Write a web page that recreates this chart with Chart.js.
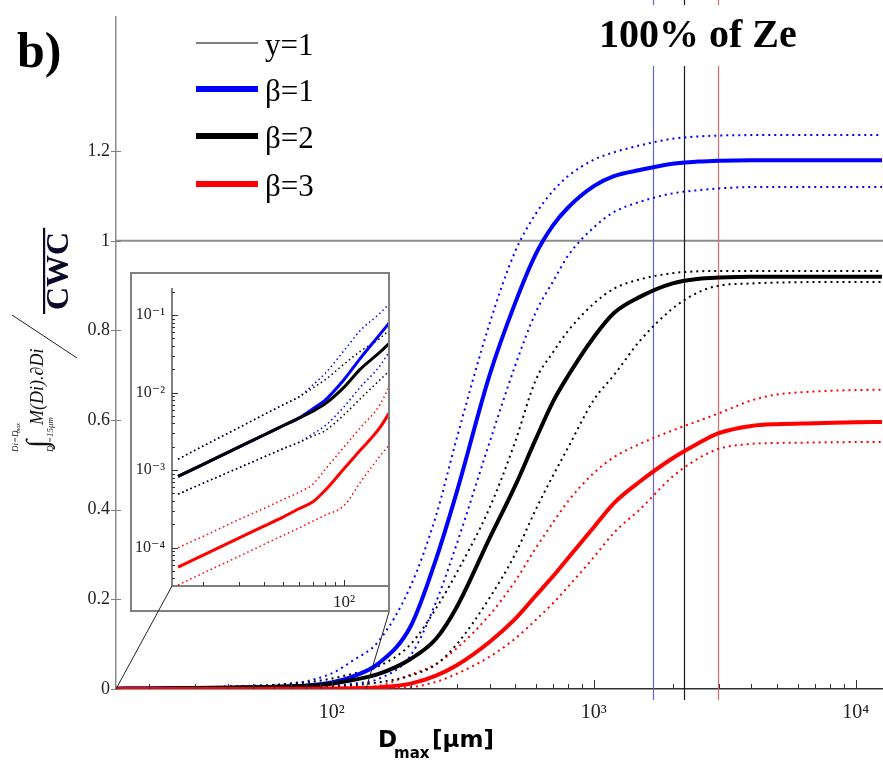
<!DOCTYPE html>
<html>
<head>
<meta charset="utf-8">
<script src="https://cdn.jsdelivr.net/npm/chart.js@4.4.0/dist/chart.umd.min.js"></script>
<style>
body { margin: 0; background: #fff; }
#wrap { position: relative; width: 883px; height: 761px; }
#mainChart { position: absolute; left: 0; top: 0; }
#insetChart { position: absolute; left: 130px; top: 272px; background: #fff; }
</style>
</head>
<body>
<div id="wrap">
  <canvas id="mainChart" width="883" height="761"></canvas>
  <canvas id="insetChart" width="260" height="340"></canvas>
</div>
<script>
// D_max [µm]
const dmax = [15, 20, 30, 40, 50, 60, 70, 80, 100, 120, 150, 200, 250, 300, 400, 500, 600, 700, 800, 1000, 1200, 1500, 2000, 2500, 3000, 4000, 5000, 7000, 10000, 12600];

// beta = 1 (blue)
const beta1Mid = [8.3e-4, 1.19e-3, 1.98e-3, 2.84e-3, 3.77e-3, 4.73e-3, 6.2e-3, 7.9e-3, 0.0148, 0.0275, 0.056, 0.14, 0.29, 0.44, 0.70, 0.86, 0.97, 1.035, 1.075, 1.122, 1.145, 1.158, 1.172, 1.177, 1.179, 1.18, 1.18, 1.18, 1.18, 1.18];
const beta1Hi = [1.39e-3, 2.05e-3, 3.53e-3, 5.2e-3, 7.0e-3, 8.9e-3, 0.0126, 0.0174, 0.035, 0.063, 0.105, 0.23, 0.387, 0.56, 0.815, 0.975, 1.06, 1.112, 1.145, 1.181, 1.198, 1.213, 1.228, 1.233, 1.235, 1.236, 1.236, 1.236, 1.236, 1.236];
const beta1Lo = [4.9e-4, 6.8e-4, 1.07e-3, 1.48e-3, 1.9e-3, 2.3e-3, 2.95e-3, 3.7e-3, 6.6e-3, 0.0117, 0.022, 0.075, 0.194, 0.324, 0.55, 0.72, 0.84, 0.91, 0.968, 1.03, 1.065, 1.087, 1.106, 1.113, 1.117, 1.12, 1.12, 1.12, 1.12, 1.12];

// beta = 2 (black)
const beta2Mid = [8.3e-4, 1.19e-3, 1.98e-3, 2.84e-3, 3.77e-3, 4.73e-3, 5.75e-3, 7.1e-3, 0.0118, 0.020, 0.033, 0.067, 0.112, 0.183, 0.336, 0.452, 0.557, 0.642, 0.70, 0.785, 0.84, 0.875, 0.905, 0.915, 0.918, 0.92, 0.92, 0.92, 0.92, 0.92];
const beta2Hi = [1.39e-3, 2.05e-3, 3.53e-3, 5.2e-3, 7.0e-3, 8.9e-3, 0.0115, 0.0145, 0.0234, 0.034, 0.05, 0.10, 0.18, 0.26, 0.404, 0.55, 0.689, 0.752, 0.80, 0.86, 0.894, 0.914, 0.928, 0.932, 0.933, 0.933, 0.933, 0.933, 0.933, 0.933];
const beta2Lo = [4.9e-4, 6.8e-4, 1.07e-3, 1.48e-3, 1.9e-3, 2.3e-3, 2.75e-3, 3.2e-3, 5.2e-3, 8.3e-3, 0.0145, 0.03, 0.055, 0.10, 0.203, 0.30, 0.40, 0.477, 0.54, 0.645, 0.702, 0.777, 0.849, 0.885, 0.90, 0.905, 0.907, 0.908, 0.908, 0.908];

// beta = 3 (red)
const beta3Mid = [5.6e-5, 8.0e-5, 1.33e-4, 1.9e-4, 2.5e-4, 3.2e-4, 3.9e-4, 5.4e-4, 1.05e-3, 1.8e-3, 3.5e-3, 0.012, 0.03, 0.053, 0.105, 0.156, 0.208, 0.252, 0.293, 0.361, 0.416, 0.463, 0.515, 0.548, 0.571, 0.587, 0.591, 0.593, 0.595, 0.596];
const beta3Hi = [1.0e-4, 1.4e-4, 2.3e-4, 3.2e-4, 4.2e-4, 5.2e-4, 6.6e-4, 1.0e-3, 2.0e-3, 3.5e-3, 6.9e-3, 0.032, 0.056, 0.091, 0.165, 0.24, 0.314, 0.372, 0.42, 0.482, 0.518, 0.547, 0.577, 0.598, 0.615, 0.644, 0.657, 0.664, 0.667, 0.668];
const beta3Lo = [3.3e-5, 4.7e-5, 7.7e-5, 1.1e-4, 1.45e-4, 1.8e-4, 2.2e-4, 2.6e-4, 3.5e-4, 6.9e-4, 1.5e-3, 0.004, 0.016, 0.034, 0.072, 0.112, 0.154, 0.192, 0.229, 0.294, 0.35, 0.401, 0.474, 0.514, 0.536, 0.547, 0.549, 0.55, 0.551, 0.551];

// reference lines: y = 1 and D_max giving 100% of Ze for beta 1, 2, 3
const refLevel = 1;
const zeLimits = [1683, 2210, 2985];

// ticks
const yTicks = [0, 0.2, 0.4, 0.6, 0.8, 1, 1.2];
const xTicks = [100, 1000, 10000];
const xTickLabels = ['10²', '10³', '10⁴'];
const insetXTicks = [100];
const insetXTickLabels = ['10²'];
const insetYTicks = [1e-4, 1e-3, 1e-2, 1e-1];
const insetYTickLabels = ['10⁻⁴', '10⁻³', '10⁻²', '10⁻¹'];

// zoomed part of the main axis shown in the inset
const zoomFrom = 15;
const zoomTo = 135;

const legendLabels = ['y=1', 'β=1', 'β=2', 'β=3'];

const BLUE = '#0000ff', BLACK = '#000000', RED = '#ff0000';
const SERIF = '"Liberation Serif", "DejaVu Serif", serif';

function toPoints(vals) {
    return dmax.map((d, i) => ({ x: d, y: vals[i] }));
}

function buildDatasets(solidW, dotW, dash) {
    const solid = (vals, c) => ({ data: toPoints(vals), borderColor: c, borderWidth: solidW });
    const dotted = (vals, c) => ({ data: toPoints(vals), borderColor: c, borderWidth: dotW, borderDash: dash });
    // first in list is drawn on top
    return [
        solid(beta3Mid, RED),
        solid(beta2Mid, BLACK),
        solid(beta1Mid, BLUE),
        dotted(beta2Hi, BLACK),
        dotted(beta2Lo, BLACK),
        dotted(beta1Hi, BLUE),
        dotted(beta1Lo, BLUE),
        dotted(beta3Hi, RED),
        dotted(beta3Lo, RED)
    ];
}

function supLabel(ticks, labels) {
    return function (value) {
        const i = ticks.indexOf(value);
        return i >= 0 ? labels[i] : '';
    };
}

const mainDecor = {
    id: 'mainDecor',
    beforeDatasetsDraw(chart) {
        const { ctx, chartArea: a, scales: { x, y } } = chart;
        ctx.save();
        // y = 1 line
        const y1 = y.getPixelForValue(refLevel);
        ctx.strokeStyle = '#8c8c8c';
        ctx.lineWidth = 2;
        ctx.beginPath();
        ctx.moveTo(a.left, y1);
        ctx.lineTo(a.right + 1, y1);
        ctx.stroke();
        // vertical lines, gap left for the title
        const colors = ['#6464d2', '#1a1a1a', '#e06a6a'];
        zeLimits.forEach((d, i) => {
            const px = Math.round(x.getPixelForValue(d)) + 0.5;
            ctx.strokeStyle = colors[i];
            ctx.lineWidth = 1.2;
            ctx.beginPath();
            ctx.moveTo(px, y.getPixelForValue(1.39));
            ctx.lineTo(px, a.bottom + 11);
            ctx.moveTo(px, 0);
            ctx.lineTo(px, 5);
            ctx.stroke();
        });
        ctx.restore();
    },
    afterDraw(chart) {
        const { ctx, chartArea: a, scales: { x, y } } = chart;
        ctx.save();

        // x ticks pointing up
        ctx.strokeStyle = '#333';
        ctx.lineWidth = 1;
        for (let k = 1; k <= 4; k++) {
            for (let m = 1; m <= 9; m++) {
                const v = m * Math.pow(10, k);
                if (v < x.min || v > x.max) continue;
                const px = Math.round(x.getPixelForValue(v)) + 0.5;
                ctx.beginPath();
                ctx.moveTo(px, a.bottom);
                ctx.lineTo(px, a.bottom - (m === 1 ? 9 : 5));
                ctx.stroke();
            }
        }
        // y ticks across the axis
        ctx.strokeStyle = '#808080';
        yTicks.forEach(v => {
            const py = Math.round(y.getPixelForValue(v)) + 0.5;
            ctx.beginPath();
            ctx.moveTo(a.left - 5, py);
            ctx.lineTo(a.left + 5, py);
            ctx.stroke();
        });

        // lines to the inset corners
        ctx.strokeStyle = '#222';
        ctx.lineWidth = 1;
        ctx.beginPath();
        ctx.moveTo(x.getPixelForValue(zoomFrom), a.bottom);
        ctx.lineTo(172, 586);
        ctx.moveTo(x.getPixelForValue(zoomTo), a.bottom);
        ctx.lineTo(389, 612);
        ctx.stroke();

        // legend
        const legendColors = [BLACK, BLUE, BLACK, RED];
        const legendWidths = [1.2, 6, 6, 6];
        const legendY = [43, 89, 136, 184];
        ctx.font = '31px ' + SERIF;
        ctx.fillStyle = '#000';
        ctx.textBaseline = 'alphabetic';
        legendLabels.forEach((lab, i) => {
            ctx.strokeStyle = legendColors[i];
            ctx.lineWidth = legendWidths[i];
            ctx.beginPath();
            ctx.moveTo(196, legendY[i]);
            ctx.lineTo(258, legendY[i]);
            ctx.stroke();
            ctx.fillText(lab, 265, legendY[i] + 12);
        });

        // panel letter and title
        ctx.font = 'bold 50px ' + SERIF;
        ctx.fillText('b)', 17, 67);
        ctx.font = 'bold 40px ' + SERIF;
        ctx.fillText('100% of Ze', 599, 47);

        // x title
        ctx.font = 'bold 23px "DejaVu Sans"';
        ctx.fillText('D', 378, 747);
        ctx.font = 'bold 15px "DejaVu Sans"';
        ctx.fillText('max', 394, 758);
        ctx.font = 'bold 23px "DejaVu Sans"';
        ctx.fillText('[µm]', 432, 747);

        // y title: integral over CWC, rotated
        ctx.fillStyle = '#111';
        ctx.save();
        ctx.translate(43, 452);
        ctx.rotate(-Math.PI / 2);
        ctx.font = '30px ' + SERIF;
        ctx.fillText('∫', 4, 4);
        ctx.font = 'italic 18px ' + SERIF;
        ctx.fillText('M(Di).∂Di', 27, 0);
        ctx.font = 'italic 9px ' + SERIF;
        ctx.fillText('Di=15μm', 0, 10);
        ctx.fillText('Di=D', 0, -25);
        ctx.font = 'italic 6px ' + SERIF;
        ctx.fillText('max', 19, -23);
        ctx.restore();

        ctx.save();
        ctx.translate(68, 314);
        ctx.rotate(-Math.PI / 2);
        ctx.font = 'bold 32px ' + SERIF;
        ctx.fillStyle = '#0a0a28';
        const w = ctx.measureText('CWC').width;
        ctx.fillText('CWC', 4, 0);
        ctx.fillRect(0, -25, w + 8, 2.2);
        ctx.restore();

        ctx.strokeStyle = '#222';
        ctx.lineWidth = 1;
        ctx.beginPath();
        ctx.moveTo(12, 315);
        ctx.lineTo(77, 358);
        ctx.stroke();

        ctx.restore();
    }
};

const mainChart = new Chart(document.getElementById('mainChart').getContext('2d'), {
    type: 'line',
    data: { datasets: buildDatasets(4, 2, [2, 4]) },
    options: {
        responsive: false,
        animation: false,
        devicePixelRatio: 1,
        layout: { padding: { top: 13, right: 1, left: 0, bottom: 0 } },
        elements: { point: { radius: 0 }, line: { cubicInterpolationMode: 'monotone' } },
        plugins: { legend: { display: false }, tooltip: { enabled: false } },
        scales: {
            x: {
                type: 'logarithmic',
                min: 15,
                max: 12600,
                grid: { display: false, drawTicks: false },
                border: { color: '#333', width: 1.5 },
                afterBuildTicks: s => { s.ticks = xTicks.map(v => ({ value: v })); },
                afterFit: s => { s.height = 72; },
                ticks: {
                    callback: supLabel(xTicks, xTickLabels),
                    font: { family: SERIF, size: 20 },
                    color: '#222',
                    padding: 12,
                    maxRotation: 0
                }
            },
            y: {
                min: 0,
                max: 1.5,
                grid: { display: false, drawTicks: false },
                border: { color: '#8c8c8c', width: 1.5 },
                afterBuildTicks: s => { s.ticks = yTicks.map(v => ({ value: v })); },
                afterFit: s => { s.width = 116; },
                ticks: {
                    callback: v => String(Math.round(v * 10) / 10),
                    font: { family: SERIF, size: 18 },
                    color: '#222',
                    padding: 6
                }
            }
        }
    },
    plugins: [mainDecor]
});

const insetDecor = {
    id: 'insetDecor',
    afterDraw(chart) {
        const { ctx, chartArea: a, scales: { x, y }, width, height } = chart;
        ctx.save();
        ctx.strokeStyle = '#808080';
        ctx.lineWidth = 2;
        ctx.strokeRect(1, 1, width - 2, height - 2);

        ctx.strokeStyle = '#333';
        ctx.lineWidth = 1;
        for (let k = 1; k <= 2; k++) {
            for (let m = 1; m <= 9; m++) {
                const v = m * Math.pow(10, k);
                if (v < x.min || v > x.max) continue;
                const px = Math.round(x.getPixelForValue(v)) + 0.5;
                ctx.beginPath();
                ctx.moveTo(px, a.bottom);
                ctx.lineTo(px, a.bottom - (m === 1 ? 6 : 4));
                ctx.stroke();
            }
        }
        for (let k = -5; k <= 0; k++) {
            for (let m = 1; m <= 9; m++) {
                const v = m * Math.pow(10, k);
                if (v < y.min || v > y.max) continue;
                const py = Math.round(y.getPixelForValue(v)) + 0.5;
                ctx.beginPath();
                ctx.moveTo(a.left, py);
                ctx.lineTo(a.left + (m === 1 ? 6 : 3), py);
                ctx.stroke();
            }
        }

        // continuation of the zoom line inside the box
        const mx = mainChart.scales.x.getPixelForValue(zoomFrom) - 130;
        const my = mainChart.chartArea.bottom - 272;
        ctx.strokeStyle = '#222';
        ctx.beginPath();
        ctx.moveTo(mx, my);
        ctx.lineTo(a.left, a.bottom);
        ctx.stroke();
        ctx.restore();
    }
};

const insetChart = new Chart(document.getElementById('insetChart').getContext('2d'), {
    type: 'line',
    data: { datasets: buildDatasets(3, 1.5, [1.5, 3]) },
    options: {
        responsive: false,
        animation: false,
        devicePixelRatio: 1,
        layout: { padding: { top: 2, right: 2, left: 0, bottom: 0 } },
        elements: { point: { radius: 0 }, line: { cubicInterpolationMode: 'monotone' } },
        plugins: { legend: { display: false }, tooltip: { enabled: false } },
        scales: {
            x: {
                type: 'logarithmic',
                min: 14,
                max: 165,
                grid: { display: false, drawTicks: false },
                border: { color: '#808080', width: 2 },
                afterBuildTicks: s => { s.ticks = insetXTicks.map(v => ({ value: v })); },
                afterFit: s => { s.height = 26; },
                ticks: {
                    callback: supLabel(insetXTicks, insetXTickLabels),
                    font: { family: SERIF, size: 17 },
                    color: '#222',
                    padding: 6,
                    maxRotation: 0
                }
            },
            y: {
                type: 'logarithmic',
                min: 3.2e-5,
                max: 0.22,
                grid: { display: false, drawTicks: false },
                border: { color: '#808080', width: 2 },
                afterBuildTicks: s => { s.ticks = insetYTicks.map(v => ({ value: v })); },
                afterFit: s => { s.width = 42; },
                ticks: {
                    callback: supLabel(insetYTicks, insetYTickLabels),
                    font: { family: SERIF, size: 16 },
                    color: '#222',
                    padding: 7
                }
            }
        }
    },
    plugins: [insetDecor]
});
</script>
</body>
</html>
